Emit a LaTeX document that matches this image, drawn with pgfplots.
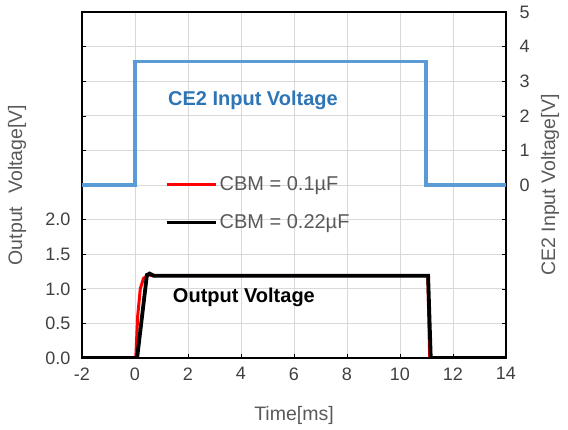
\documentclass[border=0pt]{standalone}
\usepackage{pgfplots}
\pgfplotsset{compat=1.18}
\usepackage{fontspec}
\setmainfont{Liberation Sans}
\definecolor{ceblue}{RGB}{91,155,213}
\definecolor{cetext}{RGB}{46,117,182}
\definecolor{tickgray}{RGB}{64,64,64}
\definecolor{labgray}{RGB}{89,89,89}
\definecolor{gridgray}{RGB}{217,217,217}
\begin{document}
\begin{tikzpicture}
\path[use as bounding box] (-82pt,-71pt) rectangle (486pt,358pt);
\pgfplotsset{
  every axis/.append style={
    scale only axis, width=424pt, height=346pt,
    xmin=-2, xmax=14,
    tick align=inside,
    major tick length=4pt,
    tick style={black, line width=0.6pt},
    /pgf/number format/assume math mode=true,
    ticklabel style={font=\fontsize{18}{21}\selectfont, text=tickgray},
  }
}
\begin{axis}[
  at={(0,0)}, anchor=south west,
  ymin=0, ymax=5,
  xtick={-2,0,...,14},
  ytick={0,0.5,...,5},
  yticklabels={0.0,0.5,1.0,1.5,2.0,,,,,,},
  x tick label style={yshift=-6pt},
  y tick label style={xshift=-8pt},
  xtick pos=bottom, ytick pos=left,
  grid=major,
  major grid style={gridgray, line width=0.8pt},
  xlabel={Time[ms]},
  xlabel style={font=\fontsize{19.5}{23}\selectfont, text=labgray, at={(rel axis cs:0.5,0)}, anchor=center, yshift=-57pt},
  ylabel={Output\hspace{13pt}Voltage[V]},
  ylabel style={font=\fontsize{19.5}{23}\selectfont, text=labgray, at={(rel axis cs:0,0.5)}, anchor=center, yshift=65pt},
  legend style={draw=none, fill=none, at={(rel axis cs:0.196,0.53)}, anchor=north west,
    font=\fontsize{20}{23}\selectfont, text=labgray, row sep=20pt, inner sep=0pt,
    nodes={inner sep=1.5pt}},
  legend cell align=left,
  legend image code/.code={\draw[#1] (0pt,0pt) -- (49pt,0pt);},
]
\addplot[red, line width=3pt] coordinates {(-2,0) (0.03,0) (0.1,0.6) (0.2,1.0) (0.32,1.15) (0.5,1.2) (0.7,1.19) (11.05,1.19) (11.12,0) (14,0)};
\addlegendentry{CBM = 0.1µF}
\addplot[black, line width=3.8pt] coordinates {(-2,0) (0.08,0) (0.45,1.2) (0.55,1.22) (0.7,1.19) (11.06,1.19) (11.16,0) (14,0)};
\addlegendentry{CBM = 0.22µF}
\node[font=\bfseries\fontsize{20}{23}\selectfont, text=black] at (axis cs:4.11,0.87) {Output Voltage};
\end{axis}
\begin{axis}[
  at={(0,0)}, anchor=south west,
  ymin=-5, ymax=5,
  xtick=\empty,
  ytick pos=right,
  yticklabel pos=right,
  axis line style={black, line width=1.4pt},
  ytick={-5,-4,...,5},
  yticklabels={,,,,,0,1,2,3,4,5},
  y tick label style={xshift=10pt},
  ylabel={CE2 Input Voltage[V]},
  ylabel style={font=\fontsize{19.5}{23}\selectfont, text=labgray, at={(rel axis cs:1,0.5)}, anchor=center, yshift=-44pt},
]
\addplot[ceblue, line width=3.8pt] coordinates {(-2,0) (0,0) (0,3.57) (10.98,3.57) (10.98,0) (14,0)};
\node[font=\bfseries\fontsize{20}{23}\selectfont, text=cetext] at (axis cs:4.45,2.46) {CE2 Input Voltage};
\end{axis}
\end{tikzpicture}
\end{document}
